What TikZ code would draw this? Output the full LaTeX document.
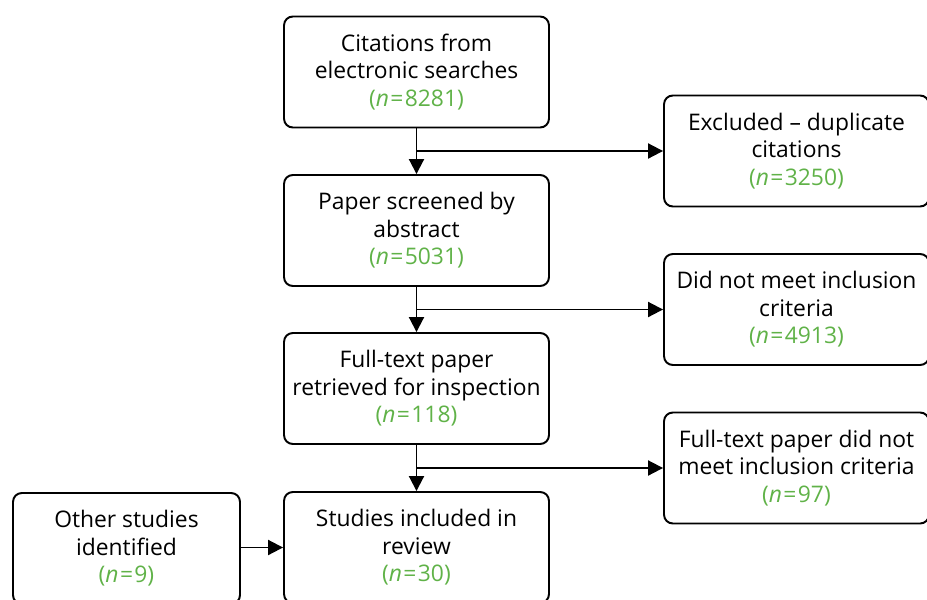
\documentclass[tikz,border=0pt]{standalone}
\usepackage{fontspec}
\setmainfont{Open Sans}
\usetikzlibrary{positioning,arrows.meta}
\definecolor{ngreen}{RGB}{96,178,72}
\newcommand{\nval}[1]{\textcolor{ngreen}{(\textit{n}\hspace{0.06em}=\hspace{0.06em}#1)}}

\begin{document}
\begin{tikzpicture}[
  x=0.02cm, y=-0.02cm,
  font=\fontsize{13}{15.6}\selectfont,
  stage/.style={rounded corners=5pt, draw, line width=1.1pt, align=center,
                minimum width=5.3cm, minimum height=2.22cm, inner sep=2pt},
  flow/.style={-{Triangle[length=3mm, width=3mm]}, line width=1.1pt}
]
\useasboundingbox (0,0) rectangle (927,599);

% Main column
\node[stage] (cit) at (416.5,72)
  {Citations from\\ electronic searches\\ \nval{8281}};
\node[stage] (screen) at (416.5,230.5)
  {Paper screened by\\ abstract\\ \nval{5031}};
\node[stage] (full) at (416.5,388.5)
  {Full-text paper\\ retrieved for inspection\\ \nval{118}};
\node[stage] (incl) at (416.5,547.5)
  {Studies included in\\ review\\ \nval{30}};

% Exclusions on the right
\node[stage] (dup) at (796.5,151)
  {Excluded -- duplicate\\ citations\\ \nval{3250}};
\node[stage] (crit) at (796.5,309.5)
  {Did not meet inclusion\\ criteria\\ \nval{4913}};
\node[stage] (ftcrit) at (796.5,468)
  {Full-text paper did not\\ meet inclusion criteria\\ \nval{97}};

% Extra studies on the left
\node[stage, minimum width=4.54cm] (other) at (126.5,548.5)
  {Other studies\\ identified\\ \nval{9}};

\draw[flow] (cit) -- (screen);
\draw[flow] (screen) -- (full);
\draw[flow] (full) -- (incl);
\draw[flow] (cit.south |- dup.west) -- (dup.west);
\draw[flow] (screen.south |- crit.west) -- (crit.west);
\draw[flow] (full.south |- ftcrit.west) -- (ftcrit.west);
\draw[flow] (other.east |- incl.west) -- (incl.west);

\end{tikzpicture}
\end{document}
